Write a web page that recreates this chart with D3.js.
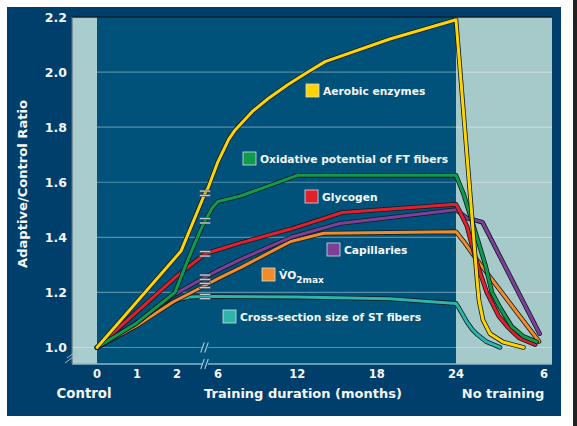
<!DOCTYPE html>
<meta charset="utf-8">
<script src="https://d3js.org/d3.v7.min.js"></script>
<style>
  body { margin: 0; background: #fff; }
  text { font-family: "DejaVu Sans", Verdana, sans-serif; font-weight: bold; fill: #f4f6f6; }
</style>
<div id="chart"></div>
<script>
// ---- data: [month, adaptive/control ratio]; months 24-30 are the detraining period
const aerobicEnzymes = [[0,1.0],[2.1,1.35],[2.7,1.56],[3.5,1.58],[6,1.675],[6.8,1.755],[7.3,1.79],[8.6,1.857],[9.8,1.904],[11.3,1.955],[12.8,2.0],[14.1,2.038],[19,2.12],[24,2.19],
  [25.43,1.25],[25.57,1.17],[25.84,1.10],[26.32,1.05],[27.2,1.02],[28.6,1.0]];
const oxidativeFT = [[0,1.0],[1,1.09],[1.95,1.2],[2.25,1.31],[2.45,1.38],[2.6,1.43],[2.7,1.46],[4.7,1.51],[6,1.53],[7.7,1.55],[12,1.625],[24,1.625],
  [24.5,1.56],[25.2,1.44],[26.0,1.30],[26.45,1.20],[27.0,1.145],[27.8,1.076],[28.6,1.04],[29.5,1.02]];
const glycogen = [[0,1.0],[1,1.13],[2,1.26],[2.7,1.34],[6,1.355],[7.7,1.38],[11.5,1.43],[15.4,1.49],[24,1.52],
  [24.2,1.50],[24.75,1.44],[25.3,1.33],[25.65,1.27],[26.1,1.20],[26.9,1.115],[27.5,1.076],[28.3,1.035],[29.4,1.01]];
const capillaries = [[0,1.0],[1,1.09],[1.9,1.19],[2.7,1.255],[6,1.28],[7.7,1.32],[11.5,1.40],[15.2,1.45],[24,1.50],
  [24.75,1.47],[25.8,1.455],[29.7,1.05]];
const vo2max = [[0,1.0],[1,1.08],[1.9,1.165],[2.7,1.225],[6,1.25],[7.7,1.29],[11.5,1.385],[14,1.415],[24,1.42],
  [24.6,1.38],[25.4,1.32],[29.66,1.022]];
const crossSectionST = [[0,1.0],[1,1.08],[1.7,1.15],[2,1.172],[2.3,1.183],[2.7,1.185],[6,1.185],[12,1.183],[19,1.177],[24,1.16],
  [24.2,1.143],[24.4,1.125],[24.75,1.092],[25.1,1.066],[25.43,1.048],[26.1,1.02],[27.0,1.0]];

const xTicks = [0, 1, 2, 6, 12, 18, 24, 30];
const xTickLabels = ["0", "1", "2", "6", "12", "18", "24", "6"];
const yTicks = [1.0, 1.2, 1.4, 1.6, 1.8, 2.0, 2.2];
const breakMonth = 2.7;

// ---- layout
const W = 577, H = 426;
const plot = {left: 72, right: 552, top: 17, bottom: 364};

const series = [
  {key: "cross", name: "Cross-section size of ST fibers", color: "#2db5a9", values: crossSectionST},
  {key: "vo2", name: "VO2max", color: "#f28c28", values: vo2max},
  {key: "cap", name: "Capillaries", color: "#7e3f97", values: capillaries},
  {key: "gly", name: "Glycogen", color: "#e2202c", values: glycogen},
  {key: "oxi", name: "Oxidative potential of FT fibers", color: "#0f9b4b", values: oxidativeFT},
  {key: "aer", name: "Aerobic enzymes", color: "#ffd400", values: aerobicEnzymes}
];
// legend anchors (top-left of swatch)
const legendPos = {aer: [306, 84], oxi: [243, 152], gly: [305, 190], cap: [327, 243], vo2: [262, 268], cross: [223, 310]};

const svg = d3.select("#chart").append("svg").attr("width", W).attr("height", H);

// screenshot edge strip + outer panel
svg.append("rect").attr("x", 573).attr("y", 0).attr("width", 4).attr("height", H).attr("fill", "#222");
svg.append("rect").attr("x", 7).attr("y", 7).attr("width", 554).attr("height", 409).attr("fill", "#003f6b");

// broken x scale: 0-2 months, break, 6-24 months, then 6 months of detraining
const x = d3.scaleLinear().domain([0, breakMonth, 6, 24, 30]).range([97, 205, 218, 456, 544]);
const y = d3.scaleLinear().domain([0.94, 2.2]).range([plot.bottom, plot.top]);

svg.append("rect").attr("x", plot.left).attr("y", plot.top)
  .attr("width", plot.right - plot.left).attr("height", plot.bottom - plot.top).attr("fill", "#00527a");
svg.append("rect").attr("x", plot.left).attr("y", plot.top)
  .attr("width", x(0) - plot.left).attr("height", plot.bottom - plot.top).attr("fill", "#a9cdcf");
svg.append("rect").attr("x", x(24)).attr("y", plot.top)
  .attr("width", plot.right - x(24)).attr("height", plot.bottom - plot.top).attr("fill", "#a6c9ca");

// grid
svg.append("g").selectAll("line").data(yTicks.filter(d => d < 2.2)).join("line")
  .attr("x1", d => d === 1.0 ? plot.left : x(0)).attr("x2", plot.right)
  .attr("y1", d => y(d)).attr("y2", d => y(d))
  .attr("stroke", "rgba(255,255,255,0.35)").attr("stroke-width", 1.2);

// frame
svg.append("line").attr("x1", plot.left).attr("x2", plot.right).attr("y1", plot.bottom).attr("y2", plot.bottom)
  .attr("stroke", "#8fb6c6").attr("stroke-width", 1.5);
svg.append("line").attr("x1", plot.left).attr("x2", plot.right).attr("y1", plot.top).attr("y2", plot.top)
  .attr("stroke", "#14202c").attr("stroke-width", 1.5);
svg.append("line").attr("x1", plot.left).attr("x2", plot.left).attr("y1", plot.top).attr("y2", plot.bottom)
  .attr("stroke", "#5d6c72").attr("stroke-width", 1.2);

// axis break marks "//" on the x axis
const bx = x(breakMonth);
[y(1.0), plot.bottom].forEach(yy => {
  svg.append("rect").attr("x", bx - 3).attr("y", yy - 2).attr("width", 6).attr("height", 4).attr("fill", "#00527a");
  [-2.5, 1.5].forEach(dx => {
    svg.append("line").attr("x1", bx + dx - 1.8).attr("y1", yy + 5).attr("x2", bx + dx + 1.8).attr("y2", yy - 5)
      .attr("stroke", "#a9c6d4").attr("stroke-width", 1.1);
  });
});
// y axis break
[[65, 363, 77, 354], [67, 358, 78, 350]].forEach(s => {
  svg.append("line").attr("x1", s[0]).attr("y1", s[1]).attr("x2", s[2]).attr("y2", s[3])
    .attr("stroke", "#9fbfcf").attr("stroke-width", 1);
});

// y tick labels
svg.append("g").selectAll("text").data(yTicks).join("text")
  .attr("x", 67).attr("y", d => y(d) + 4.5).attr("text-anchor", "end")
  .style("font-size", "12.5px").text(d => d.toFixed(1));

// x tick labels
svg.append("g").selectAll("text").data(xTicks).join("text")
  .attr("x", d => x(d)).attr("y", 378).attr("text-anchor", "middle")
  .style("font-size", "11.5px").text((d, i) => xTickLabels[i]);

// axis titles
svg.append("text").attr("x", 84).attr("y", 398).attr("text-anchor", "middle").style("font-size", "13.3px").text("Control");
svg.append("text").attr("x", 303).attr("y", 398).attr("text-anchor", "middle").style("font-size", "13px").text("Training duration (months)");
svg.append("text").attr("x", 503).attr("y", 398).attr("text-anchor", "middle").style("font-size", "13px").text("No training");
svg.append("text").attr("transform", "translate(27,184) rotate(-90)").attr("text-anchor", "middle")
  .style("font-size", "13.1px").text("Adaptive/Control Ratio");

// lines
const line = d3.line().x(d => x(d[0])).y(d => y(d[1]));
const lines = svg.append("g");
series.forEach(s => {
  lines.append("path").datum(s.values).attr("d", line).attr("fill", "none")
    .attr("stroke", "#0d1a22").attr("stroke-width", 4.6).attr("stroke-linejoin", "round").attr("stroke-linecap", "round");
  lines.append("path").datum(s.values).attr("d", line).attr("fill", "none")
    .attr("stroke", s.color).attr("stroke-width", 3).attr("stroke-linejoin", "round").attr("stroke-linecap", "round");
});

// "=" break marks on each line
series.forEach(s => {
  const p = s.values.find(d => d[0] === breakMonth);
  [-3.2, 1.2].forEach(dy => {
    svg.append("rect").attr("x", x(p[0]) - 5.5).attr("y", y(p[1]) + dy).attr("width", 11).attr("height", 2)
      .attr("fill", "#c3c9cf").attr("stroke", "#3a4550").attr("stroke-width", 0.6);
  });
});

// legend labels
series.forEach(s => {
  const [lx, ly] = legendPos[s.key];
  svg.append("rect").attr("x", lx).attr("y", ly).attr("width", 13).attr("height", 13)
    .attr("fill", s.color).attr("stroke", "#d8dde0").attr("stroke-width", 0.8);
  const t = svg.append("text").attr("x", lx + 17).attr("y", ly + 11).style("font-size", "10.7px");
  if (s.key === "vo2") {
    t.append("tspan").text("V\u0307O");
    t.append("tspan").attr("dy", 3.5).style("font-size", "9px").text("2max");
  } else {
    t.text(s.name);
  }
});
</script>
